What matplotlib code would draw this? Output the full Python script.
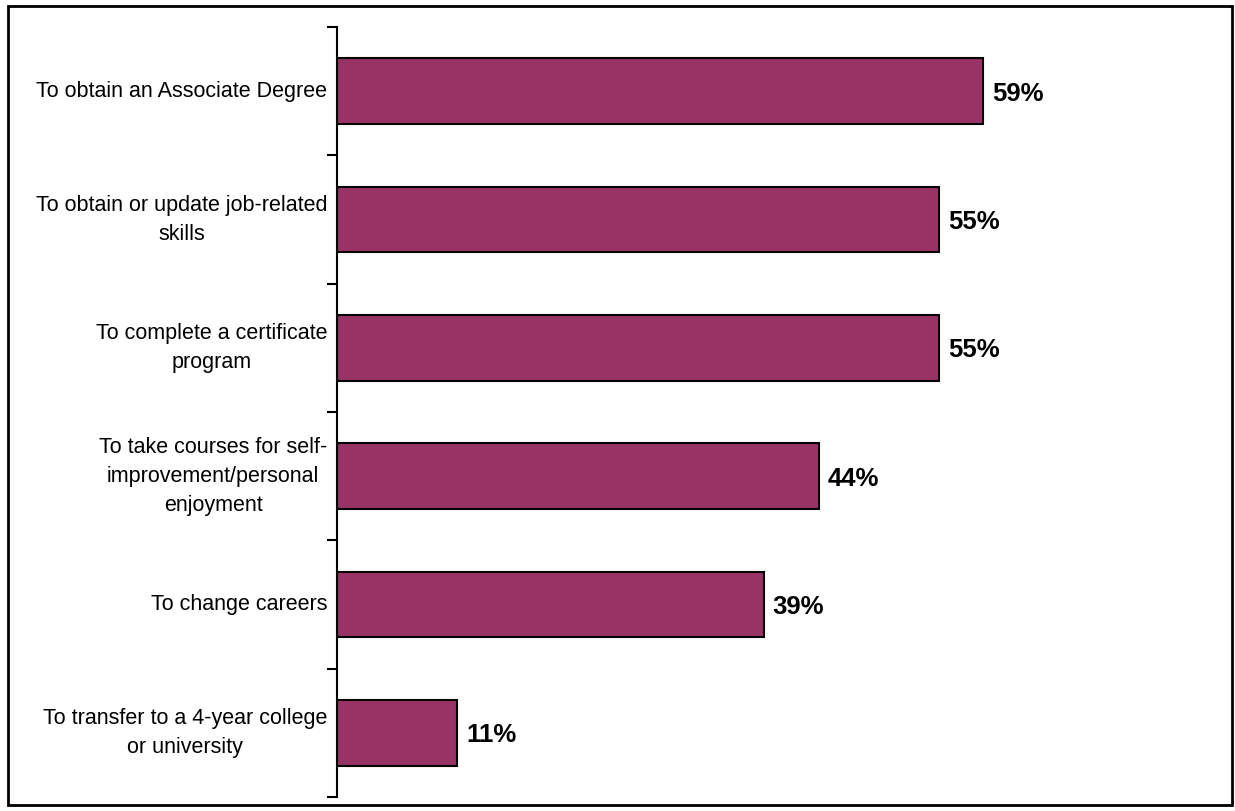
import matplotlib
matplotlib.use("Agg")
import matplotlib.pyplot as plt
from matplotlib.patches import Rectangle

plt.rcParams['font.family'] = ['Liberation Sans', 'DejaVu Sans']

categories = [
    "To obtain an Associate Degree",
    "To obtain or update job-related\nskills",
    "To complete a certificate\nprogram",
    "To take courses for self-\nimprovement/personal\nenjoyment",
    "To change careers",
    "To transfer to a 4-year college\nor university",
]
values = [59, 55, 55, 44, 39, 11]
value_labels = ["59%", "55%", "55%", "44%", "39%", "11%"]

W, H = 1235, 811
fig = plt.figure(figsize=(W / 100, H / 100), dpi=100)
ax = fig.add_axes([337 / W, 14 / H, (1213 - 337) / W, (797 - 27) / H])

n = len(categories)
pos = list(range(n))
ax.barh(pos, values, height=0.51, color="#993366", edgecolor="black", linewidth=1.5)
for p, v, lab in zip(pos, values, value_labels):
    ax.text(v + 0.8, p, lab, va="center_baseline", ha="left", fontsize=18.5, fontweight="bold")

ax.set_ylim(n - 0.5, -0.5)
ax.set_xlim(0, 80)
ax.set_yticks(pos)
ax.set_yticklabels(categories, fontsize=15.5, ha="right", va="center",
                   multialignment="center", linespacing=1.5)
ax.tick_params(axis="y", length=0, pad=7)
ax.set_yticks([i - 0.5 for i in range(n + 1)], minor=True)
ax.tick_params(axis="y", which="minor", length=7, width=1.5, direction="out")
ax.set_xticks([])
for s in ["top", "right", "bottom"]:
    ax.spines[s].set_visible(False)
ax.spines["left"].set_linewidth(1.5)

fig.patches.append(Rectangle((8 / W, 6 / H), (1232 - 8) / W, (805 - 6) / H,
                             transform=fig.transFigure, fill=False,
                             edgecolor="black", linewidth=2))

fig.savefig("out.png", dpi=100)
